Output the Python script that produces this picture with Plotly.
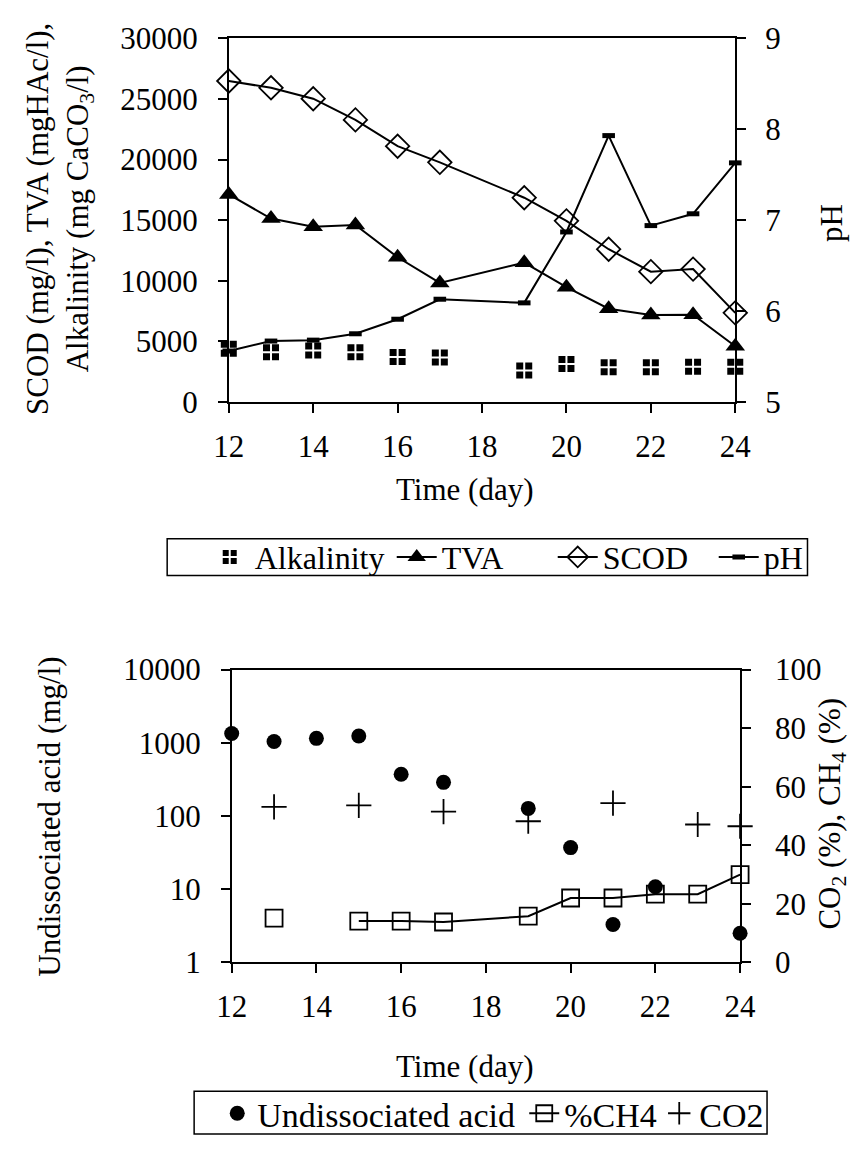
import plotly.graph_objects as go

# ---------------- data ----------------
days = [12, 13, 14, 15, 16, 17, 19, 20, 21, 22, 23, 24]
alkalinity = [4380, 4110, 4250, 4110, 3710, 3660, 2600, 3130, 2870, 2860, 2900, 2900]
tva = [17120, 15130, 14460, 14600, 11940, 9820, 11490, 9470, 7690, 7170, 7200, 4590]
scod = [26480, 25920, 25020, 23270, 21100, 19770, 16850, 14940, 12600, 10750, 10960, 7350]
ph = [5.56, 5.67, 5.68, 5.75, 5.91, 6.13, 6.09, 6.87, 7.93, 6.94, 7.07, 7.63]

undiss_acid = [1340, 1040, 1150, 1240, 371, 288, 127, 37, 3.3, 10.8, None, 2.5]
ch4 = [None, 15.1, None, 14.1, 14.1, 13.8, 15.8, 22.0, 22.0, 23.3, 23.3, 30.0]
co2 = [None, 53.1, None, 53.6, None, 51.5, 48.2, None, 54.4, None, 47.1, 46.5]

x_ticks = [12, 14, 16, 18, 20, 22, 24]
log_ticks = [1, 10, 100, 1000, 10000]

W, H = 862, 1153
FONT = "Liberation Serif, Times New Roman, serif"


def px(x):
    return x / W


def py(y):
    return 1 - y / H


fig = go.Figure()

# ---------------- top chart ----------------
fig.add_trace(go.Scatter(
    x=days, y=alkalinity, name="Alkalinity", mode="markers",
    marker=dict(symbol="square-cross", size=18, color="black",
                line=dict(color="white", width=2)),
    xaxis="x", yaxis="y", legend="legend", legendwidth=132, cliponaxis=False))
fig.add_trace(go.Scatter(
    x=days, y=tva, name="TVA", mode="lines+markers",
    line=dict(color="black", width=2),
    marker=dict(symbol="triangle-up", size=17, color="black"),
    xaxis="x", yaxis="y", legend="legend", legendwidth=106, cliponaxis=False))
fig.add_trace(go.Scatter(
    x=days, y=scod, name="SCOD", mode="lines+markers",
    line=dict(color="black", width=2),
    marker=dict(symbol="diamond-open", size=18, color="black",
                line=dict(color="black", width=1.8)),
    xaxis="x", yaxis="y", legend="legend", legendwidth=106, cliponaxis=False))
fig.add_trace(go.Scatter(
    x=days, y=ph, name="pH", mode="lines+markers",
    line=dict(color="black", width=2),
    marker=dict(symbol="line-ew", size=9, color="black",
                line=dict(color="black", width=5)),
    xaxis="x", yaxis="y2", legend="legend", cliponaxis=False))

# ---------------- bottom chart ----------------
fig.add_trace(go.Scatter(
    x=days, y=undiss_acid, name="Undissociated acid", mode="markers",
    marker=dict(symbol="circle", size=15, color="black"),
    xaxis="x2", yaxis="y3", legend="legend2", legendwidth=262, cliponaxis=False))
fig.add_trace(go.Scatter(
    x=days, y=ch4, name="%CH4", mode="lines+markers", connectgaps=False,
    line=dict(color="black", width=2),
    marker=dict(symbol="square-open", size=17, color="black",
                line=dict(color="black", width=1.8)),
    xaxis="x2", yaxis="y4", legend="legend2", legendwidth=90, cliponaxis=False))
fig.add_trace(go.Scatter(
    x=days, y=co2, name="CO2", mode="markers",
    marker=dict(symbol="cross-thin", size=18, color="black",
                line=dict(color="black", width=1.8)),
    xaxis="x2", yaxis="y4", legend="legend2", cliponaxis=False))

axis_common = dict(showline=True, linecolor="black", linewidth=1.5,
                   ticks="outside", ticklen=9, tickwidth=1.5, tickcolor="black",
                   showgrid=False, zeroline=False,
                   tickfont=dict(family=FONT, size=31, color="black"))

fig.update_layout(
    width=W, height=H,
    margin=dict(l=0, r=0, t=0, b=0),
    paper_bgcolor="white", plot_bgcolor="white",
    font=dict(family=FONT, size=31, color="black"),
    xaxis=dict(domain=[px(221), px(747)], anchor="y", range=[12, 24],
               tickvals=x_ticks, mirror=True, ticklabelstandoff=7, **axis_common),
    yaxis=dict(domain=[py(397), py(22)], anchor="x", range=[0, 30000],
               dtick=5000, tickformat="d", ticklabelstandoff=14, **axis_common),
    yaxis2=dict(overlaying="y", anchor="x", side="right", range=[5, 9],
                dtick=1, ticklabelstandoff=13, **axis_common),
    xaxis2=dict(domain=[px(224), px(752)], anchor="y3", range=[12, 24],
                tickvals=x_ticks, mirror=True, ticklabelstandoff=7, **axis_common),
    yaxis3=dict(domain=[py(975), py(673)], anchor="x2", type="log", range=[0, 4],
                tickvals=log_ticks, ticktext=[str(v) for v in log_ticks],
                ticklabelstandoff=14, **axis_common),
    yaxis4=dict(overlaying="y3", anchor="x2", side="right", range=[0, 100],
                dtick=20, ticklabelstandoff=18, **axis_common),
    legend=dict(orientation="h", x=px(196), xanchor="left", y=py(557),
                yanchor="middle", borderwidth=0, bgcolor="rgba(0,0,0,0)",
                font=dict(family=FONT, size=32, color="black"),
                itemwidth=40),
    legend2=dict(orientation="h", x=px(209), xanchor="left", y=py(1131),
                 yanchor="middle", borderwidth=0, bgcolor="rgba(0,0,0,0)",
                 font=dict(family=FONT, size=34, color="black"),
                 itemwidth=30),
    showlegend=True,
    shapes=[
        dict(type="rect", xref="paper", yref="paper",
             x0=px(157), x1=px(822), y0=py(576), y1=py(538),
             line=dict(color="black", width=1.5)),
        dict(type="rect", xref="paper", yref="paper",
             x0=px(185), x1=px(780), y0=py(1152), y1=py(1108),
             line=dict(color="black", width=1.5)),
    ],
)

ann_font = dict(family=FONT, size=31, color="black")
annotations = [
    dict(text="SCOD (mg/l), TVA (mgHAc/l),<br>Alkalinity (mg CaCO<sub>3</sub>/l)",
         x=px(45), y=py(208), textangle=-90),
    dict(text="pH", x=px(847), y=py(213), textangle=-90),
    dict(text="Time (day)", x=px(466), y=py(487)),
    dict(text="Undissociated acid (mg/l)", x=px(35), y=py(825), textangle=-90),
    dict(text="CO<sub>2</sub> (%), CH<sub>4</sub> (%)", x=px(847), y=py(822), textangle=-90),
    dict(text="Time (day)", x=px(466), y=py(1082)),
]
for a in annotations:
    fig.add_annotation(xref="paper", yref="paper", showarrow=False,
                       xanchor="center", yanchor="middle", font=ann_font, **a)

fig.write_html("out.html")
